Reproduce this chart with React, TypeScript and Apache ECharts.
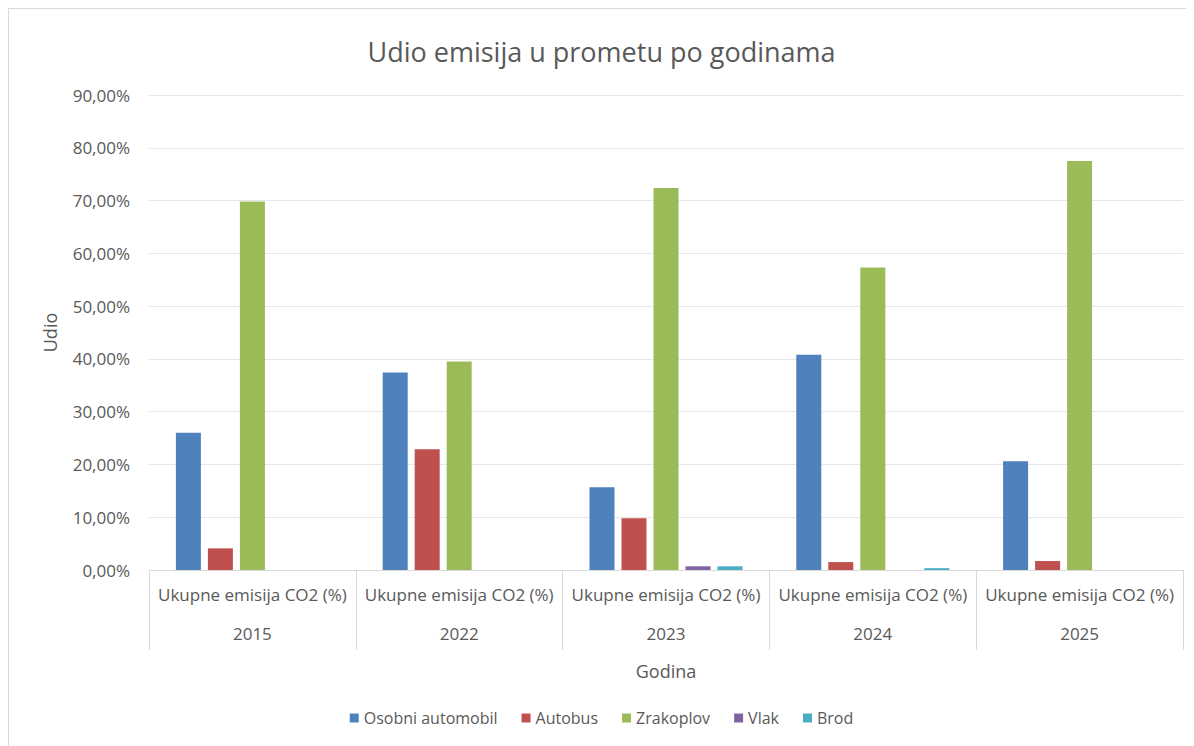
import React, { useEffect, useRef } from "react";
import * as echarts from "echarts";

const years = ["2015", "2022", "2023", "2024", "2025"];
const subLabel = "Ukupne emisija CO2 (%)";
const seriesNames = ["Osobni automobil", "Autobus", "Zrakoplov", "Vlak", "Brod"];
const osobni = [26.0, 37.4, 15.7, 40.8, 20.6];
const autobus = [4.1, 22.9, 9.8, 1.5, 1.7];
const zrakoplov = [69.8, 39.5, 72.4, 57.3, 77.5];
const vlak = [0, 0, 0.7, 0, 0];
const brod = [0, 0, 0.7, 0.35, 0];
const colors = ["#4F81BD", "#C0504D", "#9BBB59", "#8064A2", "#4BACC6"];
const yTicks = { min: 0, max: 90, interval: 10 };

const FONT = "'Open Sans', sans-serif";
const TXT = "#595959";

export default function App() {
  const ref = useRef<HTMLDivElement>(null);
  useEffect(() => {
    if (!ref.current) return;
    const chart = echarts.init(ref.current, undefined, { renderer: "svg" });
    const data = [osobni, autobus, zrakoplov, vlak, brod];
    chart.setOption({
      animation: false,
      textStyle: { fontFamily: FONT },
      title: {
        text: "Udio emisija u prometu po godinama",
        left: "center",
        top: 24,
        textStyle: { fontFamily: FONT, fontSize: 27, fontWeight: "normal", color: TXT },
      },
      legend: {
        bottom: 15,
        left: "center",
        itemWidth: 9,
        itemHeight: 9,
        itemGap: 24,
        icon: "rect",
        textStyle: { fontFamily: FONT, fontSize: 16, color: TXT },
        data: seriesNames,
      },
      grid: { left: 140, right: 11, top: 86, bottom: 176 },
      xAxis: {
        type: "category",
        data: years,
        name: "Godina",
        nameLocation: "middle",
        nameGap: 92,
        nameTextStyle: { fontFamily: FONT, fontSize: 18, color: TXT },
        axisLine: { show: true, lineStyle: { color: "#d9d9d9" } },
        axisTick: { show: true, length: 80, interval: 0, lineStyle: { color: "#d9d9d9" } },
        axisLabel: {
          interval: 0,
          margin: 11,
          formatter: (v: string) => `{a|${subLabel}}\n{b|${v}}`,
          rich: {
            a: { fontFamily: FONT, fontSize: 17, color: TXT, lineHeight: 26 },
            b: { fontFamily: FONT, fontSize: 17, color: TXT, lineHeight: 52 },
          },
        },
      },
      yAxis: {
        type: "value",
        min: yTicks.min,
        max: yTicks.max,
        interval: yTicks.interval,
        name: "Udio",
        nameLocation: "middle",
        nameRotate: 90,
        nameGap: 90,
        nameTextStyle: { fontFamily: FONT, fontSize: 18, color: TXT },
        axisLine: { show: false },
        axisTick: { show: false },
        splitLine: { lineStyle: { color: "#e6e6e6" } },
        axisLabel: {
          margin: 19,
          fontFamily: FONT,
          fontSize: 17,
          color: TXT,
          formatter: (v: number) => v.toFixed(2).replace(".", ",") + "%",
        },
      },
      series: seriesNames.map((name, i) => ({
        name,
        type: "bar",
        data: data[i],
        itemStyle: { color: colors[i] },
        barGap: "28%",
        barCategoryGap: "26%",
      })),
    });
    return () => chart.dispose();
  }, []);
  return (
    <div
      ref={ref}
      style={{
        width: 1186,
        height: 738,
        boxSizing: "border-box",
        borderLeft: "1px solid #d9d9d9",
        borderTop: "1px solid #d9d9d9",
        background: "#fff",
      }}
    />
  );
}
